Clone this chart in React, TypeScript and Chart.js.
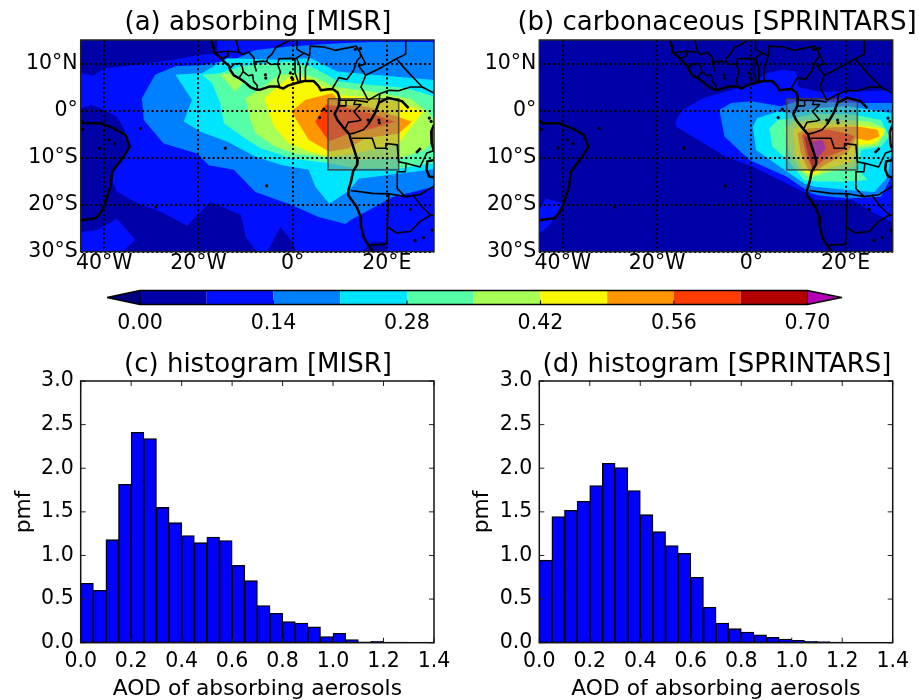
import React, { useEffect, useRef } from 'react';
import { Chart, registerables } from 'chart.js';

Chart.register(...registerables);
Chart.defaults.font.family = '"DejaVu Sans", sans-serif';
Chart.defaults.color = '#000';

type P = [number, number];

// ---------- shared values ----------
const lonTicks = [-40, -20, 0, 20];
const latTicks = [-30, -20, -10, 0, 10];
const colorbarEdges = [0, 0.07, 0.14, 0.21, 0.28, 0.35, 0.42, 0.49, 0.56, 0.63, 0.7];
const colorbarTicks = [0, 0.14, 0.28, 0.42, 0.56, 0.7];
const levelColors = ['#0000a8', '#0010ff', '#0080ff', '#00e5ff', '#55ffa8', '#a8ff55', '#f8f800', '#ff9600', '#ff3c00', '#b40000'];
const underColor = '#00007f';
const overColor = '#b400b4';
const histXTicks = [0, 0.2, 0.4, 0.6, 0.8, 1.0, 1.2, 1.4];
const histYTicks = [0, 0.5, 1, 1.5, 2, 2.5, 3];
const binCenters = [0.025, 0.075, 0.125, 0.175, 0.225, 0.275, 0.325, 0.375, 0.425, 0.475, 0.525, 0.575, 0.625, 0.675, 0.725, 0.775, 0.825, 0.875, 0.925, 0.975, 1.025, 1.075, 1.125, 1.175, 1.225, 1.275, 1.325, 1.375];
const histMisr = [0.68, 0.6, 1.18, 1.815, 2.41, 2.34, 1.55, 1.375, 1.227, 1.146, 1.21, 1.17, 0.887, 0.71, 0.424, 0.336, 0.24, 0.225, 0.18, 0.07, 0.107, 0.035, 0.008, 0.015, 0.005, 0.005, 0.003, 0.003];
const histSprintars = [0.945, 1.445, 1.517, 1.62, 1.8, 2.056, 2.006, 1.743, 1.467, 1.272, 1.112, 1.024, 0.749, 0.405, 0.225, 0.16, 0.122, 0.088, 0.061, 0.042, 0.027, 0.015, 0.011, 0.007, 0.004, 0.003, 0.002, 0.001];

// ---------- map geography (lon, lat) ----------
const mapExtent: P[] = [[-45, 15], [30, 15], [30, -30], [-45, -30]];
const targetBox: P[] = [[7.5, 2.5], [22.5, 2.5], [22.5, -12.6], [7.5, -12.6], [7.5, 2.5]];
const africaCoast: P[] = [[-17.3, 16], [-17.2, 14.7], [-16.7, 13], [-16.7, 12.4], [-15, 11], [-14.7, 10.5], [-13.5, 9.5], [-13.2, 8.5], [-12.5, 7.5], [-11.4, 6.9], [-10, 5.9], [-9, 5], [-7.6, 4.4], [-7, 4.4], [-5, 5.1], [-3.2, 5.1], [-2, 4.7], [-1, 5.3], [1, 5.9], [2.5, 6.3], [4.4, 6.3], [5.5, 5.2], [6, 4.3], [7.2, 4.5], [8.5, 4.6], [9.5, 3.9], [9.9, 2.8], [9.8, 1.1], [9.4, 0.2], [8.9, -0.7], [9.5, -2], [11, -3.9], [12, -5], [12.3, -6], [13.2, -8.8], [13.8, -10.7], [13.7, -11.5], [12.8, -13], [12.4, -15], [11.8, -17], [11.8, -18], [13.6, -20.5], [14.4, -22.5], [14.5, -24.5], [15.1, -27], [15.7, -28], [16.4, -29], [17, -30]];
const brazilCoast: P[] = [[-45, -2], [-44.4, -2.7], [-40.8, -2.7], [-38, -3.8], [-35.5, -5.2], [-34.6, -7.7], [-35.9, -9.8], [-38.3, -13], [-38.7, -16.2], [-39.8, -19.7], [-40.8, -21.8], [-41.9, -22.9], [-45, -23.3]];
const congoRiver: P[] = [[16, -3], [17.5, -0.5], [18.3, 1.7], [20.4, 2.7], [23.2, 2], [24.6, 0.5]];
const lakeEast: P[] = [[30, -3], [29.4, -4.5], [29.5, -7], [30, -8.5]];
const lakeBangweulu: P[] = [[30, -10.5], [28.6, -10.8], [28.4, -12.5], [29, -14], [30, -14.2]];
const lakeMweru: P[] = [[26.2, -9], [27.2, -8]];
const borderLines: P[][] = [
  [[-12, 15], [-11.4, 12.4]],
  [[-16.7, 12.3], [-13.7, 12.6], [-13.7, 11.7], [-15, 11]],
  [[-13.7, 12.6], [-11.4, 12.4], [-10.7, 11.9], [-9.3, 12.4], [-8.2, 11.2], [-8.2, 10], [-7.7, 8.3]],
  [[-13.2, 9.1], [-12.4, 9.9], [-11.2, 10], [-10.7, 9.3], [-10.5, 8.3], [-11.4, 6.9]],
  [[-10.5, 8.3], [-9.4, 7.4], [-8.5, 7.6], [-8.3, 6.2], [-7.5, 5.3], [-7.6, 4.4]],
  [[-8.2, 10.3], [-6.2, 10.5], [-5.5, 10.4], [-4.7, 9.8], [-3.2, 9.9], [-2.6, 8.2], [-3.2, 6.5], [-2.8, 5.1]],
  [[-3.2, 9.9], [-2.9, 11], [-0.2, 11.1], [0.5, 11], [0.5, 8], [1.2, 6.1]],
  [[0.9, 11], [1.6, 9.2], [1.6, 6.2]],
  [[2.7, 6.4], [2.7, 9], [3.6, 11.7]],
  [[0.5, 11], [2.4, 12.2], [3.6, 11.7]],
  [[2.4, 12.2], [0.9, 13], [0.9, 15]],
  [[-5.5, 10.4], [-5.3, 11.2], [-4.4, 12], [-3.6, 13.4], [-2, 14.2], [-0.5, 15]],
  [[3.6, 11.7], [3.7, 13.7], [6.7, 13.5], [9, 12.8], [13.5, 13.7], [14.2, 12.5], [14.5, 11.5]],
  [[8.5, 4.8], [9.8, 7], [11.5, 6.6], [12.9, 8.5], [13.7, 10.7], [14.5, 11.5]],
  [[14.2, 12.5], [15.5, 9.9], [14, 9.5], [15.5, 7.5]],
  [[15.5, 7.5], [14.5, 5], [15.1, 4], [16, 2.2]],
  [[9.8, 2.2], [11.3, 2.2], [13.3, 2.2], [16, 1.8]],
  [[9.6, 1], [11.3, 1], [11.3, 2.2]],
  [[13.3, 2.2], [13, 1.3], [14.5, 1.3], [13, -0.2], [14.5, -2], [13.8, -2.2], [11.8, -2.5], [11.1, -3.9]],
  [[12.2, -5], [13, -4.8], [15, -4.1], [16, -3]],
  [[16, 2.2], [18.5, 3.6], [20.5, 4.3], [22.5, 4.2], [25, 5], [27.5, 5]],
  [[18.3, 1.7], [18.5, 3.6]],
  [[15.5, 7.5], [18.5, 9], [22, 11]],
  [[24, 15], [24, 12], [22, 11], [24, 8.7], [27.5, 5], [30, 3.7]],
  [[12.6, -5.9], [16.9, -5.9], [17.6, -8], [19.7, -8], [19.8, -7], [22.2, -7.3], [22.5, -10.9], [24.1, -11.2], [23.9, -13], [22.2, -13], [22.2, -16.6], [23.9, -18.3], [20.4, -17.7], [16.9, -17.6], [12.3, -17]],
  [[24.1, -11.2], [27, -12], [28.5, -9], [30, -8.5]],
  [[20.4, -17.7], [20.2, -22], [20, -27.5], [20, -28.4], [16.5, -28.6]],
  [[23.9, -18.3], [27, -17.9], [29.3, -16.5], [30, -16]],
  [[25.5, -17.9], [27.5, -20.5], [29.3, -22.2], [30, -22.3]],
  [[20.1, -24.7], [22, -26], [25, -25.7], [27, -23.6], [29.3, -22.2]],
];
const islandsAndLakes: P[] = [[-5.8, 7.6], [-5.7, 6.9], [-0.5, 8], [-0.2, 7], [0, 6.6], [14.4, 13.2], [13.3, 13], [6.6, 0.3], [5.7, -1.5], [18.3, -2], [18.4, -2.6], [-5.5, -16], [-14.3, -8], [-32.3, -3.8], [-40, -4.2], [-39, -6.2], [-37.8, -7], [-41, -8], [-44.6, -4], [29, -1.6], [29.4, -2.3], [26, -27.6], [27.8, -27], [29.6, -25.4], [25, -21], [-29, -20.5], [16, -2]];

// ---------- panel (a) contour bands ----------
const aNavyNW: P[] = [[-45, 15], [-16, 15], [-16, 12.2], [-19.9, 11.8], [-25.3, 10.8], [-33.7, 9.7], [-39.8, 9], [-42.4, 7.4], [-45, 8]];
const aNavySW: P[] = [[-45, 0.5], [-42.6, 1.2], [-40, 0.1], [-37.3, -1.3], [-35.9, -3.8], [-34.5, -7], [-36.2, -10.9], [-38, -12.6], [-38.3, -14.8], [-37.3, -17.2], [-33, -19.7], [-27.4, -21.8], [-22.4, -24.5], [-17.5, -19.4], [-11, -22.2], [-10, -26.8], [-7.6, -30], [-45, -30]];
const aNavyS1: P[] = [[-5.4, -30], [-2.6, -24.7], [0.2, -28.3], [0.6, -30]];
const aNavyS2: P[] = [[14.7, -30], [16.8, -27.9], [19.7, -27.9], [20, -30]];
const aBluePatch: P[] = [[-45, -25.8], [-41.5, -25.4], [-37.3, -23], [-33.4, -27.5], [-36.2, -30], [-45, -30]];
const aBand2: P[] = [[-32, 2.6], [-29.2, 7.6], [-24.9, 9.4], [-18.9, 9.7], [-11.8, 11.1], [-7.9, 12.9], [-0.8, 13.6], [9.8, 14.3], [16.8, 14.6], [27.5, 14.6], [30, 14.6], [30, -16.2], [21.4, -18.3], [12.2, -23.3], [11.2, -24.1], [5.5, -22.6], [-0.1, -20.1], [-7.9, -17.3], [-12.5, -12.6], [-17.8, -11.6], [-20.3, -9.1], [-27.4, -7], [-31.6, -2]];
const aBand3: P[] = [[-24.9, 7.6], [-19.2, 8], [-13.9, 11.1], [-3.3, 10.8], [3.8, 11.1], [9.4, 8.3], [17.2, 7.6], [30, 6.5], [30, -12.5], [22, -13.5], [14, -14.5], [12, -17], [7.8, -19.8], [4.8, -16.2], [3.4, -12.6], [-2.2, -11.6], [-7.9, -9.8], [-13.9, -6.6], [-19.6, -4.5], [-23.1, -2.3], [-21.4, 2.3]];
const aBand4: P[] = [[-19.2, 7.6], [-15.3, 8], [-11, 9.4], [-0.8, 10.4], [4.1, 9.3], [9.8, 6.2], [16.1, 5.5], [24, 4.8], [30, 3], [30, -11.2], [22.5, -12.3], [13.3, -12.3], [7.7, -11.2], [-0.1, -10.2], [-6.8, -8], [-10.7, -5.5], [-14.6, -2.7], [-15.4, 1.6], [-17.1, 5.8]];
const aPatch5: P[] = [[-15.3, 7.6], [-12.2, 4], [-10.4, 6.2], [-12.9, 8]];
const aBand5: P[] = [[-10, 2.6], [-7, 4.5], [-3, 7.5], [1, 8], [5, 7], [9, 5], [17, 4], [25, 2.5], [28.5, 0], [30, -2], [30, -6], [28, -8.4], [22.5, -10.2], [13.3, -10.5], [6.2, -9.8], [0.6, -9.1], [-3.7, -7.7], [-7.9, -4.8], [-9, -2]];
const aBand6: P[] = [[-6.1, 2.6], [-0.8, 7.1], [3, 7], [9.8, 3.3], [16.1, 2.9], [22.5, 1.8], [27.8, -0.2], [25.4, -3.2], [22.5, -7], [13.3, -9.1], [8, -9.8], [3.4, -8.7], [-0.8, -7], [-4, -3.4]];
const aBand7: P[] = [[-0.3, -0.2], [2.7, 2.3], [8.4, 3.7], [10.5, 1.3], [16, 0.8], [20, -0.5], [25.3, -2.4], [22.5, -4.9], [15.4, -5.9], [11.9, -8], [7.7, -8.7], [3.4, -6.2]];
const aBand8: P[] = [[4.8, -2.4], [7, 1.3], [10.5, 0.8], [16.8, -0.7], [21.8, -2.4], [16.9, -3.8], [11.9, -4.9], [7.7, -6.6]];

// ---------- panel (b) contour bands ----------
const bBand1: P[] = [[-16, -2], [-14.6, 0.1], [-10.3, 2.6], [-4, 4.4], [0.3, 5.8], [3.1, 7.9], [6.7, 8.7], [9.5, 8.3], [10, 5], [14.4, 4], [21.5, 4], [30, 4.3], [30, -23.8], [25.8, -21.6], [21.4, -19], [13.7, -19], [11.6, -17.6], [0.3, -11.9], [-5.4, -9.8], [-16, -3.4]];
const bBrazilBlue: P[] = [[-43.6, -18.7], [-40, -19.7], [-41.8, -22.9], [-43.2, -24.7], [-45, -26.2], [-45, -21]];
const bBand2: P[] = [[-6.8, 0.1], [-4.3, 1.6], [0, 2], [6.3, 0.9], [9.8, 2], [24, 1.6], [30, 1.6], [30, -13.3], [29, -15.5], [27.5, -18.3], [20.4, -18.7], [14.1, -18], [12.7, -17.6], [7.4, -14], [-0.4, -10.5], [-5.7, -5.5]];
const bBand3: P[] = [[0.3, -3.4], [1.3, -1.6], [5.6, -0.2], [9.1, -0.6], [13.4, 0.5], [20.4, 0.9], [29.6, -0.5], [30, -6.2], [29, -14], [26.1, -17.3], [20.4, -16.9], [13.4, -16.2], [11.2, -15.5], [5.6, -11.6], [1, -8.4]];
const bBand4: P[] = [[3.8, -3.8], [5.6, -2], [9.1, -1.6], [13.4, -0.6], [21.9, -0.9], [27.5, -2], [29.3, -5.5], [27.5, -7.7], [23.3, -8.4], [22.6, -12.3], [24.7, -14.8], [19.7, -15.1], [14.1, -15.1], [11.2, -14.8], [7.7, -10.5], [4.5, -7.7]];
const bBand5: P[] = [[7, -3.8], [9.1, -2.3], [12.7, -2], [20.4, -2], [25.4, -2.4], [28.6, -4.1], [26.8, -7.3], [22.6, -8], [21.9, -11.9], [15.5, -13.3], [12.3, -14.4], [10.2, -12.6], [8, -8.4]];
const bBand6: P[] = [[8.8, -4.1], [11.2, -2.7], [16.9, -2.7], [22.6, -3.1], [27.9, -3.8], [28.2, -5.2], [26, -7], [22.6, -7.3], [21.2, -10.9], [16.2, -12.3], [13, -13.7], [11.2, -13], [9.5, -9.4]];
const bBand7: P[] = [[9.8, -4.8], [12, -3.8], [16.2, -3.6], [22.6, -3.4], [26.8, -4.1], [27.2, -5.5], [24.7, -6.4], [22.2, -5.9], [20.4, -8.9], [16.2, -11.2], [13.4, -13], [12.3, -13], [10.5, -9.1]];
const bBand8: P[] = [[10.7, -5.2], [12.3, -4.5], [16.2, -4.1], [20.4, -4.9], [21.9, -5.5], [19.7, -8.4], [16.2, -9.8], [13.7, -12], [13, -12.7], [11.6, -9.5]];
const bBand9: P[] = [[11.2, -5.5], [12.7, -5.9], [14.1, -8.4], [13.4, -11.2], [13, -12.3], [12, -9.1]];
const bBand10: P[] = [[13, -6.6], [15.1, -6.2], [15.8, -8], [14.1, -10.1], [13.2, -9.1]];

const bandsA: [P[], string][] = [
  [mapExtent, levelColors[1]], [aNavyNW, levelColors[0]], [aNavySW, levelColors[0]], [aNavyS1, levelColors[0]], [aNavyS2, levelColors[0]], [aBluePatch, levelColors[1]],
  [aBand2, levelColors[2]], [aBand3, levelColors[3]], [aBand4, levelColors[4]], [aPatch5, levelColors[5]], [aBand5, levelColors[5]], [aBand6, levelColors[6]], [aBand7, levelColors[7]], [aBand8, levelColors[8]],
];
const bandsB: [P[], string][] = [
  [mapExtent, levelColors[0]], [bBand1, levelColors[1]], [bBrazilBlue, levelColors[1]], [bBand2, levelColors[2]], [bBand3, levelColors[3]], [bBand4, levelColors[4]], [bBand5, levelColors[5]],
  [bBand6, levelColors[6]], [bBand7, levelColors[7]], [bBand8, levelColors[8]], [bBand9, levelColors[9]], [bBand10, overColor],
];

const FONT_TICK = 20.5;
const FONT_TITLE = 26;
const FONT_AXIS = 21.8;

const toXY = (pts: P[]) => pts.map(([x, y]) => ({ x, y }));

const framePlugin = (tickLen: number, frameColor: string) => ({
  id: 'frame',
  afterDraw(chart: any) {
    const { ctx, chartArea: a, scales } = chart;
    ctx.save();
    ctx.lineWidth = 1;
    ctx.strokeStyle = '#222';
    if (tickLen > 0) {
      ctx.beginPath();
      scales.x.ticks.forEach((t: any) => {
        const p = scales.x.getPixelForValue(t.value);
        ctx.moveTo(p, a.bottom); ctx.lineTo(p, a.bottom - tickLen);
        ctx.moveTo(p, a.top); ctx.lineTo(p, a.top + tickLen);
      });
      scales.y.ticks.forEach((t: any) => {
        const p = scales.y.getPixelForValue(t.value);
        ctx.moveTo(a.left, p); ctx.lineTo(a.left + tickLen, p);
        ctx.moveTo(a.right, p); ctx.lineTo(a.right - tickLen, p);
      });
      ctx.stroke();
    }
    ctx.lineWidth = 1.5;
    ctx.strokeStyle = frameColor;
    ctx.strokeRect(a.left, a.top, a.width, a.height);
    ctx.restore();
  },
});

function lineDs(pts: P[], order: number, width: number, color = '#000') {
  return { type: 'scatter', data: toXY(pts), showLine: true, fill: false, borderColor: color, borderWidth: width, pointRadius: 0, tension: 0, order, borderJoinStyle: 'round' };
}
function polyDs(pts: P[], color: string, order: number) {
  return { type: 'scatter', data: toXY(pts), showLine: true, fill: 'shape', backgroundColor: color, borderColor: color, borderWidth: 0, pointRadius: 0, tension: 0, order };
}

function lonLabel(v: number) {
  return v === 0 ? '0°' : v < 0 ? `${-v}°W` : `${v}°E`;
}
function latLabel(v: number) {
  return v === 0 ? '0°' : v < 0 ? `${-v}°S` : `${v}°N`;
}

// invisible right-hand axis: reserves the space to the right of the plot so that the
// title stays centred on the canvas
const spacerAxis = (w: number) => ({
  type: 'linear', position: 'right', min: 0, max: 1,
  afterFit: (s: any) => { s.width = w; },
  ticks: { display: false }, grid: { display: false, drawTicks: false }, border: { display: false },
});

function mapConfig(bands: [P[], string][], title: string, axisLeft: number, padRight: number): any {
  const datasets: any[] = [];
  let o = 1000;
  bands.forEach(([pts, c]) => datasets.push(polyDs(pts, c, o--)));
  const box = polyDs(targetBox, 'rgba(128,128,128,0.42)', o--);
  box.borderWidth = 1.6; box.borderColor = 'rgba(60,60,60,0.8)';
  datasets.push(box);
  borderLines.forEach((l) => datasets.push(lineDs(l, o--, 1.6)));
  [lakeMweru].forEach((l) => datasets.push(lineDs(l, o--, 2.6)));
  [africaCoast, brazilCoast, congoRiver, lakeEast, lakeBangweulu].forEach((l) => datasets.push(lineDs(l, o--, 2.5)));
  datasets.push({ type: 'scatter', data: toXY(islandsAndLakes), pointRadius: 1.6, pointBackgroundColor: '#000', pointBorderWidth: 0, showLine: false, order: o-- });
  return {
    type: 'scatter',
    data: { datasets },
    plugins: [framePlugin(0, '#222')],
    options: {
      animation: false, responsive: false, events: [],
      layout: { padding: 0 },
      plugins: {
        legend: { display: false }, tooltip: { enabled: false },
        title: { display: true, text: title, color: '#000', font: { size: FONT_TITLE, weight: 'normal', lineHeight: 1.2 }, padding: { top: 7.4, bottom: 1.4 } },
      },
      scales: {
        x: {
          type: 'linear', min: -45, max: 30,
          afterBuildTicks: (s: any) => { s.ticks = lonTicks.map((value) => ({ value })); },
          afterFit: (s: any) => { s.height = 30.3; },
          ticks: { callback: (v: number) => lonLabel(v), font: { size: FONT_TICK }, autoSkip: false, maxRotation: 0, padding: 0, color: '#000' },
          grid: { z: 1, color: '#000', lineWidth: 2, drawTicks: false },
          border: { display: false, dash: [2, 2.7] },
        },
        y: {
          type: 'linear', min: -30, max: 15,
          afterBuildTicks: (s: any) => { s.ticks = latTicks.map((value) => ({ value })); },
          afterFit: (s: any) => { s.width = axisLeft; },
          ticks: { callback: (v: number) => latLabel(v), font: { size: FONT_TICK }, autoSkip: false, padding: 3, color: '#000' },
          grid: { z: 1, color: '#000', lineWidth: 2, drawTicks: false },
          border: { display: false, dash: [2, 2.7] },
        },
        spacer: spacerAxis(padRight),
      },
    },
  };
}

function histConfig(values: number[], title: string, axisLeft: number, padRight: number, pmfPad: number): any {
  return {
    type: 'bar',
    data: { datasets: [{ data: binCenters.map((x, i) => ({ x, y: values[i] })), backgroundColor: '#0000ff', borderColor: '#000', borderWidth: 1.3, borderSkipped: false, categoryPercentage: 1, barPercentage: 1, inflateAmount: 0.4 }] },
    plugins: [framePlugin(5, '#111')],
    options: {
      animation: false, responsive: false, events: [],
      layout: { padding: 0 },
      plugins: {
        legend: { display: false }, tooltip: { enabled: false },
        title: { display: true, text: title, color: '#000', font: { size: FONT_TITLE, weight: 'normal', lineHeight: 1.2 }, padding: { top: 9.4, bottom: 0.4 } },
      },
      scales: {
        x: {
          type: 'linear', min: 0, max: 1.4, offset: false,
          afterBuildTicks: (s: any) => { s.ticks = histXTicks.map((value) => ({ value })); },
          afterFit: (s: any) => { s.height = 57.3; },
          ticks: { callback: (v: number) => v.toFixed(1), font: { size: FONT_TICK }, autoSkip: false, maxRotation: 0, padding: 7, color: '#000' },
          grid: { display: false, drawTicks: false },
          border: { display: false },
          title: { display: true, text: 'AOD of absorbing aerosols', color: '#000', font: { size: FONT_AXIS }, padding: { top: 0, bottom: -2 } },
        },
        y: {
          type: 'linear', min: 0, max: 3,
          afterBuildTicks: (s: any) => { s.ticks = histYTicks.map((value) => ({ value })); },
          afterFit: (s: any) => { s.width = axisLeft; },
          ticks: { callback: (v: number) => v.toFixed(1), font: { size: FONT_TICK }, autoSkip: false, padding: 7, color: '#000' },
          grid: { display: false, drawTicks: false },
          border: { display: false },
          title: { display: true, text: 'pmf', color: '#000', font: { size: FONT_AXIS }, padding: { top: pmfPad, bottom: 0 } },
        },
        spacer: spacerAxis(padRight),
      },
    },
  };
}

function colorbarConfig(): any {
  const low = -0.0346;
  const high = 0.7358;
  const datasets: any[] = [];
  let o = 100;
  datasets.push(polyDs([[low, 0.5], [0, 1], [0, 0]], underColor, o--));
  datasets.push(polyDs([[0.7, 1], [high, 0.5], [0.7, 0]], overColor, o--));
  levelColors.forEach((c, i) => {
    const a = colorbarEdges[i];
    const b = colorbarEdges[i + 1];
    datasets.push(polyDs([[a, 0], [b, 0], [b, 1], [a, 1]], c, o--));
  });
  const outline = lineDs([[low, 0.5], [0, 1], [0.7, 1], [high, 0.5], [0.7, 0], [0, 0], [low, 0.5]], o--, 1.5);
  (outline as any).clip = false;
  datasets.push(outline);
  datasets.push({ ...lineDs([[0, 0], [0, 1]], o--, 1), clip: false });
  datasets.push({ ...lineDs([[0.7, 0], [0.7, 1]], o--, 1), clip: false });
  return {
    type: 'scatter',
    data: { datasets },
    plugins: [{
      id: 'cbTicks',
      afterDraw(chart: any) {
        const { ctx, chartArea: a, scales } = chart;
        ctx.save(); ctx.strokeStyle = '#000'; ctx.lineWidth = 1; ctx.beginPath();
        scales.x.ticks.forEach((t: any) => {
          const p = scales.x.getPixelForValue(t.value);
          ctx.moveTo(p, a.bottom); ctx.lineTo(p, a.bottom - 4);
        });
        ctx.stroke(); ctx.restore();
      },
    }],
    options: {
      animation: false, responsive: false, events: [],
      layout: { padding: { left: 17, right: 18.5, top: 10.5, bottom: 0 } },
      plugins: { legend: { display: false }, tooltip: { enabled: false }, title: { display: false } },
      scales: {
        x: {
          type: 'linear', min: low, max: high,
          afterBuildTicks: (s: any) => { s.ticks = colorbarTicks.map((value) => ({ value })); },
          afterFit: (s: any) => { s.height = 30.5; },
          ticks: { callback: (v: number) => v.toFixed(2), font: { size: FONT_TICK }, autoSkip: false, maxRotation: 0, padding: 7, color: '#000' },
          grid: { display: false, drawTicks: false },
          border: { display: false },
        },
        y: { type: 'linear', min: 0, max: 1, display: false },
      },
    },
  };
}

function Panel({ left, top, width, height, config }: { left: number; top: number; width: number; height: number; config: () => any }) {
  const ref = useRef<HTMLCanvasElement | null>(null);
  useEffect(() => {
    if (!ref.current) return;
    const chart = new Chart(ref.current, config());
    return () => chart.destroy();
  }, [config]);
  return <canvas ref={ref} width={width} height={height} style={{ position: 'absolute', left, top, width, height, display: 'block' }} />;
}

const cfgA = () => mapConfig(bandsA, '(a) absorbing [MISR]', 80.7, 82);
const cfgB = () => mapConfig(bandsB, '(b) carbonaceous [SPRINTARS]', 79.3, 81.3);
const cfgC = () => histConfig(histMisr, '(c) histogram [MISR]', 80.7, 82, 11);
const cfgD = () => histConfig(histSprintars, '(d) histogram [SPRINTARS]', 79.3, 81.3, 9);

export default function App() {
  return (
    <div style={{ position: 'absolute', left: 0, top: 0, width: 919, height: 700, overflow: 'hidden', background: '#fff' }}>
      <Panel left={0} top={0} width={516} height={282} config={cfgA} />
      <Panel left={460} top={0} width={514} height={282} config={cfgB} />
      <Panel left={90} top={280} width={770} height={55} config={colorbarConfig} />
      <Panel left={0} top={340} width={516} height={360} config={cfgC} />
      <Panel left={460} top={340} width={514} height={360} config={cfgD} />
    </div>
  );
}
